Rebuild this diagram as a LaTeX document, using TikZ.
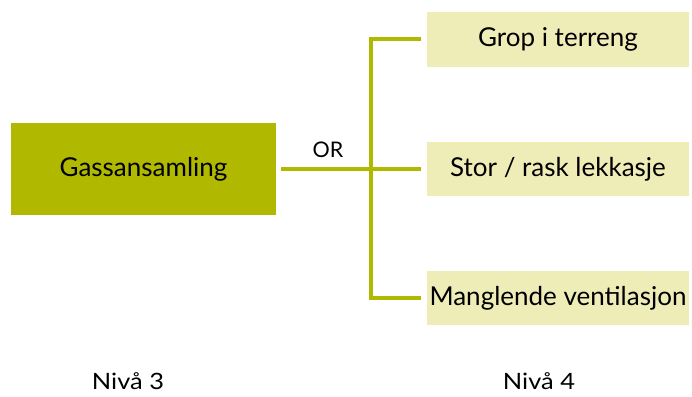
\documentclass[tikz,border=0pt]{standalone}
\usepackage{fontspec}
\setmainfont{Lato}
\newfontfamily\widelato[FakeStretch=1.13]{Lato}
\definecolor{olive}{HTML}{B0B800}
\definecolor{paleolive}{HTML}{EEEDB8}
\begin{document}
\begin{tikzpicture}[x=1pt,y=-1pt,
  every node/.style={text=black},
  boxtext/.style={font=\fontsize{26}{30}\selectfont},
  mainbox/.style={boxtext, fill=olive, draw=none, minimum width=265pt, minimum height=92pt, inner sep=0pt},
  subbox/.style={boxtext, fill=paleolive, draw=none, minimum width=262pt, minimum height=54pt, inner sep=0pt},
  label/.style={font=\widelato\fontsize{22.5}{26}\selectfont, anchor=base, inner sep=0pt},
  link/.style={draw=olive, line width=4pt}]
\useasboundingbox (0,0) rectangle (692,396);
\node[mainbox] (m) at (143.5,169) {Gassansamling};
\node[subbox] (a) at (558,39.5) {Grop i terreng};
\node[subbox] (b) at (558,169) {Stor / rask lekkasje};
\node[subbox] (c) at (558,298) {Manglende ventilasjon};
\coordinate (j) at (371,169);
\coordinate (jt) at (371,39.5);
\coordinate (jb) at (371,298);
\draw[link] ([xshift=5pt]m.east) -- (j);
\draw[link] ([xshift=-6pt]a.west) -- (jt) -- (jb) -- ([xshift=-6pt]c.west);
\draw[link] (j) -- ([xshift=-6pt]b.west);
\node[label, font=\fontsize{21.5}{26}\selectfont] (or) at (328,157) {OR};
\node[label] (n3) at (128,389) {Nivå 3};
\node[label] (n4) at (539,389) {Nivå 4};
\end{tikzpicture}
\end{document}
